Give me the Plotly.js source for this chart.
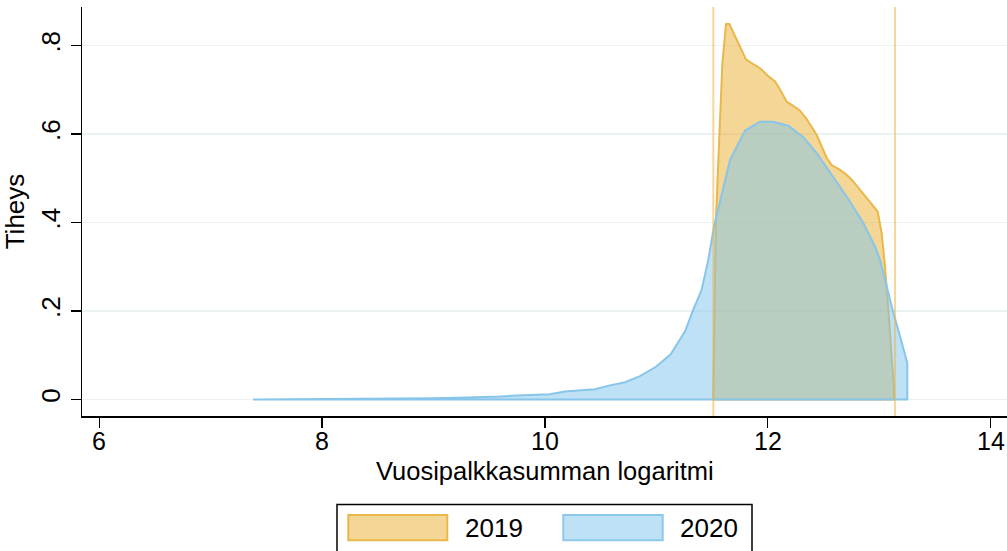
<!DOCTYPE html>
<html>
<head>
<meta charset="utf-8">
<script src="https://cdn.plot.ly/plotly-3.0.1.min.js"></script>
<style>html,body{margin:0;padding:0;background:#fff;}#chart{width:1007px;height:551px;}</style>
</head>
<body>
<div id="chart"></div>
<script>
// ---- data ----
const seriesNames = ["2019", "2020"];

const x2019 = [11.512, 11.535, 11.593, 11.626, 11.656, 11.722, 11.767, 11.805, 11.871, 11.931, 12.006, 12.066, 12.117, 12.171, 12.230, 12.290, 12.350, 12.440, 12.485, 12.530, 12.574, 12.649, 12.709, 12.768, 12.829, 12.889, 12.934, 12.987, 13.023, 13.053, 13.083, 13.113, 13.134];
const y2019 = [0.02, 0.406, 0.760, 0.849, 0.849, 0.813, 0.786, 0.769, 0.758, 0.749, 0.731, 0.719, 0.698, 0.673, 0.664, 0.653, 0.634, 0.598, 0.572, 0.546, 0.530, 0.519, 0.508, 0.493, 0.474, 0.455, 0.442, 0.425, 0.376, 0.301, 0.203, 0.105, 0.02];

const x2020 = [7.38, 7.8, 8.2, 8.7, 8.998, 9.298, 9.447, 9.597, 9.747, 9.896, 10.045, 10.180, 10.315, 10.450, 10.584, 10.719, 10.854, 10.997, 11.129, 11.258, 11.332, 11.407, 11.467, 11.518, 11.662, 11.797, 11.931, 12.050, 12.185, 12.320, 12.440, 12.589, 12.709, 12.858, 12.963, 13.008, 13.068, 13.128, 13.188, 13.253];
const y2020 = [0, 0.0005, 0.001, 0.0023, 0.003, 0.0045, 0.0052, 0.0068, 0.009, 0.0098, 0.012, 0.018, 0.020, 0.023, 0.032, 0.039, 0.053, 0.074, 0.102, 0.154, 0.203, 0.248, 0.316, 0.391, 0.542, 0.608, 0.628, 0.628, 0.619, 0.593, 0.557, 0.504, 0.459, 0.399, 0.346, 0.316, 0.256, 0.196, 0.143, 0.083];

// reference lines (2019 min / max)
const refLines2019 = [11.512, 13.143];

const xTicks = [6, 8, 10, 12, 14];
const yTicks = [0, 0.2, 0.4, 0.6, 0.8];
const yTickLabels = ["0", ".2", ".4", ".6", ".8"];
const xTitle = "Vuosipalkkasumman logaritmi";
const yTitle = "Tiheys";

// ---- styling ----
const FONT = "Liberation Sans, Arial, sans-serif";
const FS = 26;
const FSX = 25;
const colors = {
  fill: ["rgba(233,173,45,0.5)", "rgba(125,195,235,0.5)"],
  line: ["rgb(233,184,72)", "rgb(135,198,234)"],
  swatchLine: ["rgb(233,184,72)", "rgb(140,200,236)"],
  vline: "rgba(236,180,70,0.55)"
};

const M = {l: 82, r: 0, t: 7, b: 134.5};
const W = 1007, H = 551;
const pw = W - M.l - M.r, ph = H - M.t - M.b;
const px2x = p => (p - M.l) / pw;
const py2y = p => (H - M.b - p) / ph;

function closed(xs, ys) {
  return {
    x: xs.concat([xs[xs.length - 1], xs[0], xs[0]]),
    y: ys.concat([0, 0, ys[0]])
  };
}

const c19 = closed(x2019, y2019);
const c20 = closed(x2020, y2020);

const traces = [
  {x: c19.x, y: c19.y, type: "scatter", mode: "lines", fill: "toself",
   fillcolor: colors.fill[0], line: {color: colors.line[0], width: 2}, name: seriesNames[0], showlegend: false, hoverinfo: "skip"},
  {x: c20.x, y: c20.y, type: "scatter", mode: "lines", fill: "toself",
   fillcolor: colors.fill[1], line: {color: colors.line[1], width: 2}, name: seriesNames[1], showlegend: false, hoverinfo: "skip"}
];

const shapes = refLines2019.map(v => ({
  type: "line", xref: "x", yref: "paper", x0: v, x1: v, y0: 0, y1: 1,
  line: {color: colors.vline, width: 2}, layer: "above"
}));

// legend box
shapes.push({type: "rect", xref: "paper", yref: "paper",
  x0: px2x(337), x1: px2x(752), y0: py2y(505), y1: py2y(570),
  line: {color: "#000", width: 1.5}, fillcolor: "rgba(0,0,0,0)"});
const swX = [[348.3, 447.3], [563.3, 662.7]];
const txX = [463.3, 678.3];
const annotations = [];
seriesNames.forEach((n, i) => {
  shapes.push({type: "rect", xref: "paper", yref: "paper",
    x0: px2x(swX[i][0]), x1: px2x(swX[i][1]), y0: py2y(515.7), y1: py2y(541),
    line: {color: colors.swatchLine[i], width: 2}, fillcolor: colors.fill[i]});
  annotations.push({xref: "paper", yref: "paper", x: px2x(txX[i]), y: py2y(528.5),
    xanchor: "left", yanchor: "middle", text: n, showarrow: false,
    font: {family: FONT, size: FS, color: "#000"}});
});
// x tick labels (placed closer to the ticks than plotly allows)
xTicks.forEach(v => {
  annotations.push({xref: "x", yref: "paper", x: v, y: py2y(442),
    xanchor: "center", yanchor: "middle", text: String(v), showarrow: false,
    borderpad: 0,
    font: {family: FONT, size: FSX, color: "#000"}});
});
// x-axis title
annotations.push({xref: "paper", yref: "paper", x: px2x(545), y: py2y(472),
  xanchor: "center", yanchor: "middle", text: xTitle, showarrow: false,
  borderpad: 0,
  font: {family: FONT, size: FSX + 0.5, color: "#000"}});

const layout = {
  width: W, height: H,
  margin: M,
  paper_bgcolor: "#fff", plot_bgcolor: "#fff",
  showlegend: false,
  font: {family: FONT, size: FS, color: "#000"},
  xaxis: {
    range: [5.845, 14.148], tickvals: xTicks, showticklabels: false,
    showgrid: false, zeroline: false, showline: true, linecolor: "#000", linewidth: 1.5,
    ticks: "outside", ticklen: 10, tickwidth: 1.5, tickcolor: "#000",
    automargin: false
  },
  yaxis: {
    range: [-0.0373, 0.8874], tickvals: yTicks, ticktext: yTickLabels, tickangle: -90,
    showgrid: true, gridcolor: "#eaf2f3", gridwidth: 1.5,
    zeroline: false, showline: true, linecolor: "#000", linewidth: 1.5,
    ticks: "outside", ticklen: 10, tickwidth: 1.5, tickcolor: "#000",
    tickfont: {family: FONT, size: FS, color: "#000"},
    title: {text: yTitle, font: {family: FONT, size: FS, color: "#000"}, standoff: 4},
    automargin: false
  },
  shapes: shapes,
  annotations: annotations
};

Plotly.newPlot("chart", traces, layout, {displayModeBar: false, staticPlot: true});
</script>
</body>
</html>
